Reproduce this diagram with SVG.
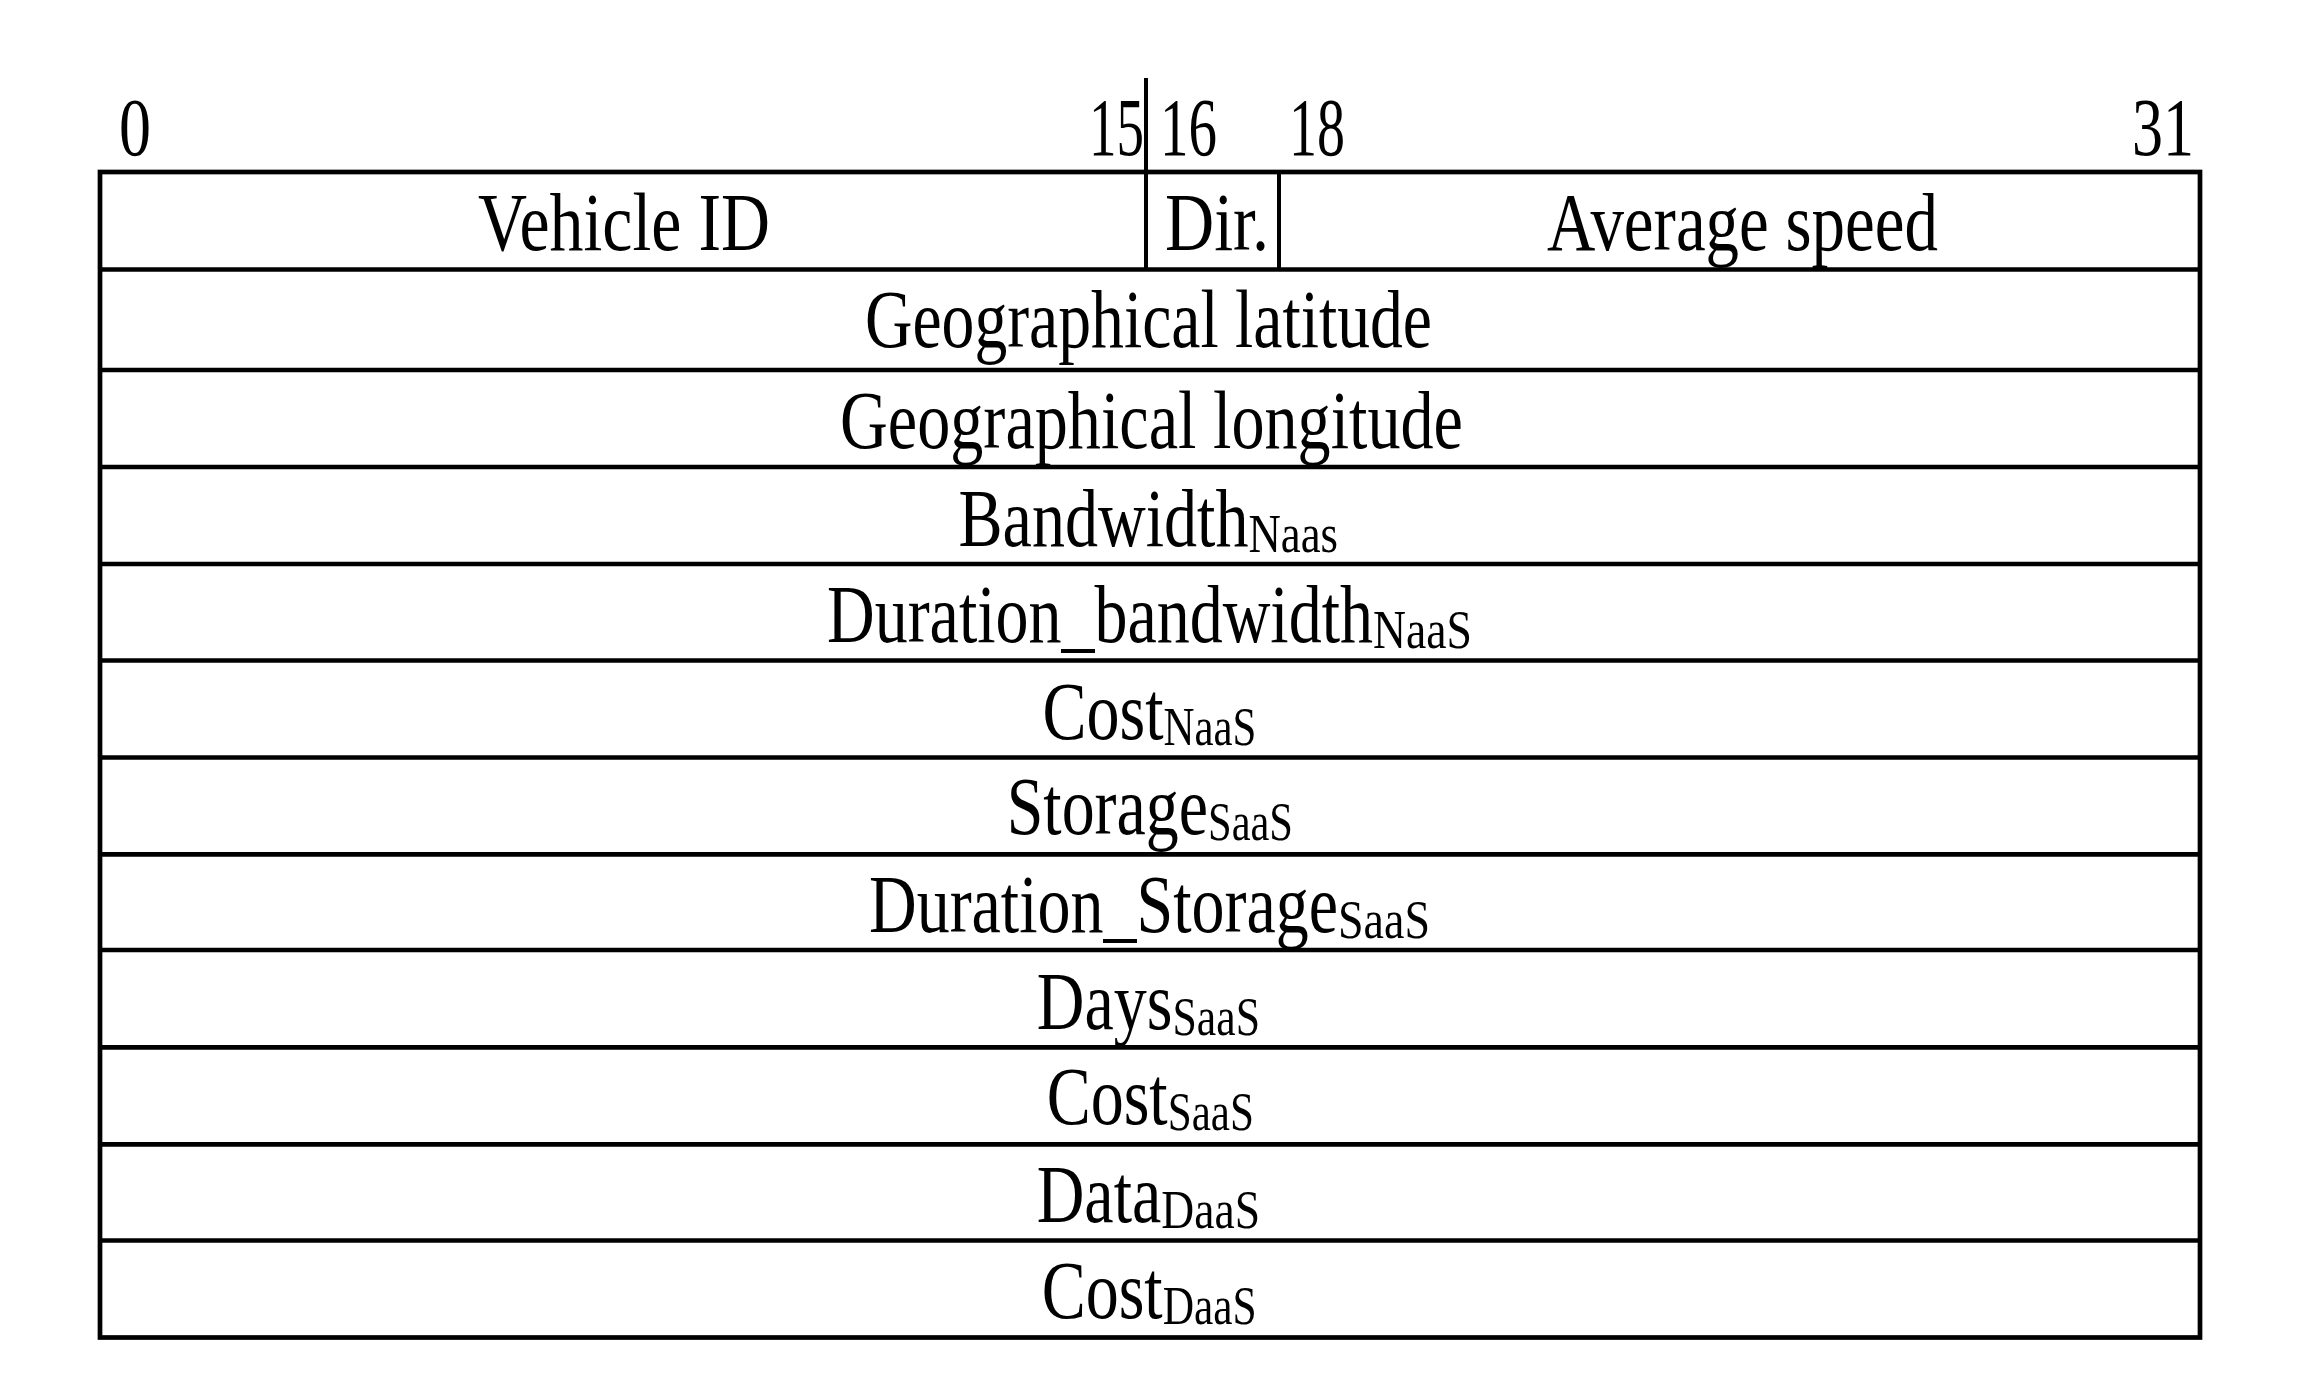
<svg xmlns="http://www.w3.org/2000/svg" width="2299" height="1397" viewBox="0 0 2299 1397">
<style>
.t{font-family:"Liberation Serif","Times New Roman",serif;font-size:82px;fill:#000}
.s{font-size:55px}
.h{stroke:#000;stroke-width:4.7;fill:none}
.v{stroke:#000;stroke-width:4;fill:none}
</style>
<rect width="2299" height="1397" fill="#fff"/>
<g id="bit-labels" class="t">
<text x="119" y="154.5" textLength="32" lengthAdjust="spacingAndGlyphs">0</text>
<text x="1089" y="154.5" textLength="55" lengthAdjust="spacingAndGlyphs">15</text>
<text x="1160" y="154.5" textLength="57" lengthAdjust="spacingAndGlyphs">16</text>
<text x="1289" y="154.5" textLength="56" lengthAdjust="spacingAndGlyphs">18</text>
<text x="2132" y="154.5" textLength="62" lengthAdjust="spacingAndGlyphs">31</text>
</g>
<g id="grid">
<line class="v" x1="1146" y1="78" x2="1146" y2="269.5"/>
<line class="v" x1="1279" y1="172" x2="1279" y2="269.5"/>
<line class="h" x1="100" y1="269.5" x2="2200" y2="269.5"/>
<line class="h" x1="100" y1="370" x2="2200" y2="370"/>
<line class="h" x1="100" y1="467" x2="2200" y2="467"/>
<line class="h" x1="100" y1="564" x2="2200" y2="564"/>
<line class="h" x1="100" y1="660.5" x2="2200" y2="660.5"/>
<line class="h" x1="100" y1="757.5" x2="2200" y2="757.5"/>
<line class="h" x1="100" y1="854.3" x2="2200" y2="854.3"/>
<line class="h" x1="100" y1="950" x2="2200" y2="950"/>
<line class="h" x1="100" y1="1047.3" x2="2200" y2="1047.3"/>
<line class="h" x1="100" y1="1144.3" x2="2200" y2="1144.3"/>
<line class="h" x1="100" y1="1240.5" x2="2200" y2="1240.5"/>
<rect class="h" x="100" y="172" width="2100" height="1165.5"/>
</g>
<g id="row-vehicle-id" class="t"><text x="478" y="249.5" textLength="292" lengthAdjust="spacingAndGlyphs">Vehicle ID</text></g>
<g id="row-dir" class="t"><text x="1165" y="250" textLength="104" lengthAdjust="spacingAndGlyphs">Dir.</text></g>
<g id="row-average-speed" class="t"><text x="1547" y="250" textLength="391" lengthAdjust="spacingAndGlyphs">Average speed</text></g>
<g id="row-latitude" class="t"><text x="865" y="347.3" textLength="567" lengthAdjust="spacingAndGlyphs">Geographical latitude</text></g>
<g id="row-longitude" class="t"><text x="840" y="448.3" textLength="623" lengthAdjust="spacingAndGlyphs">Geographical longitude</text></g>
<g id="row-bandwidth" class="t"><text y="546"><tspan x="958.5" textLength="290" lengthAdjust="spacingAndGlyphs">Bandwidth</tspan><tspan class="s" x="1248.5" y="552" textLength="89.5" lengthAdjust="spacingAndGlyphs">Naas</tspan></text></g>
<g id="row-duration-bandwidth" class="t"><text y="641.7"><tspan x="827" textLength="546" lengthAdjust="spacingAndGlyphs">Duration_bandwidth</tspan><tspan class="s" x="1373" y="647.7" textLength="99" lengthAdjust="spacingAndGlyphs">NaaS</tspan></text></g>
<g id="row-cost-naas" class="t"><text y="738.5"><tspan x="1042.5" textLength="121" lengthAdjust="spacingAndGlyphs">Cost</tspan><tspan class="s" x="1163.5" y="744.5" textLength="93" lengthAdjust="spacingAndGlyphs">NaaS</tspan></text></g>
<g id="row-storage" class="t"><text y="834.3"><tspan x="1006.7" textLength="201.3" lengthAdjust="spacingAndGlyphs">Storage</tspan><tspan class="s" x="1208" y="840.3" textLength="85" lengthAdjust="spacingAndGlyphs">SaaS</tspan></text></g>
<g id="row-duration-storage" class="t"><text y="931.7"><tspan x="869" textLength="469" lengthAdjust="spacingAndGlyphs">Duration_Storage</tspan><tspan class="s" x="1338" y="937.7" textLength="92" lengthAdjust="spacingAndGlyphs">SaaS</tspan></text></g>
<g id="row-days" class="t"><text y="1029.3"><tspan x="1036.8" textLength="135.6" lengthAdjust="spacingAndGlyphs">Days</tspan><tspan class="s" x="1172.4" y="1035.3" textLength="87.6" lengthAdjust="spacingAndGlyphs">SaaS</tspan></text></g>
<g id="row-cost-saas" class="t"><text y="1124"><tspan x="1046.7" textLength="121" lengthAdjust="spacingAndGlyphs">Cost</tspan><tspan class="s" x="1167.7" y="1130" textLength="86.3" lengthAdjust="spacingAndGlyphs">SaaS</tspan></text></g>
<g id="row-data-daas" class="t"><text y="1221.7"><tspan x="1036.7" textLength="124.6" lengthAdjust="spacingAndGlyphs">Data</tspan><tspan class="s" x="1161.3" y="1227.7" textLength="98.7" lengthAdjust="spacingAndGlyphs">DaaS</tspan></text></g>
<g id="row-cost-daas" class="t"><text y="1318.3"><tspan x="1041.7" textLength="121" lengthAdjust="spacingAndGlyphs">Cost</tspan><tspan class="s" x="1162.7" y="1324.3" textLength="94" lengthAdjust="spacingAndGlyphs">DaaS</tspan></text></g>
</svg>
